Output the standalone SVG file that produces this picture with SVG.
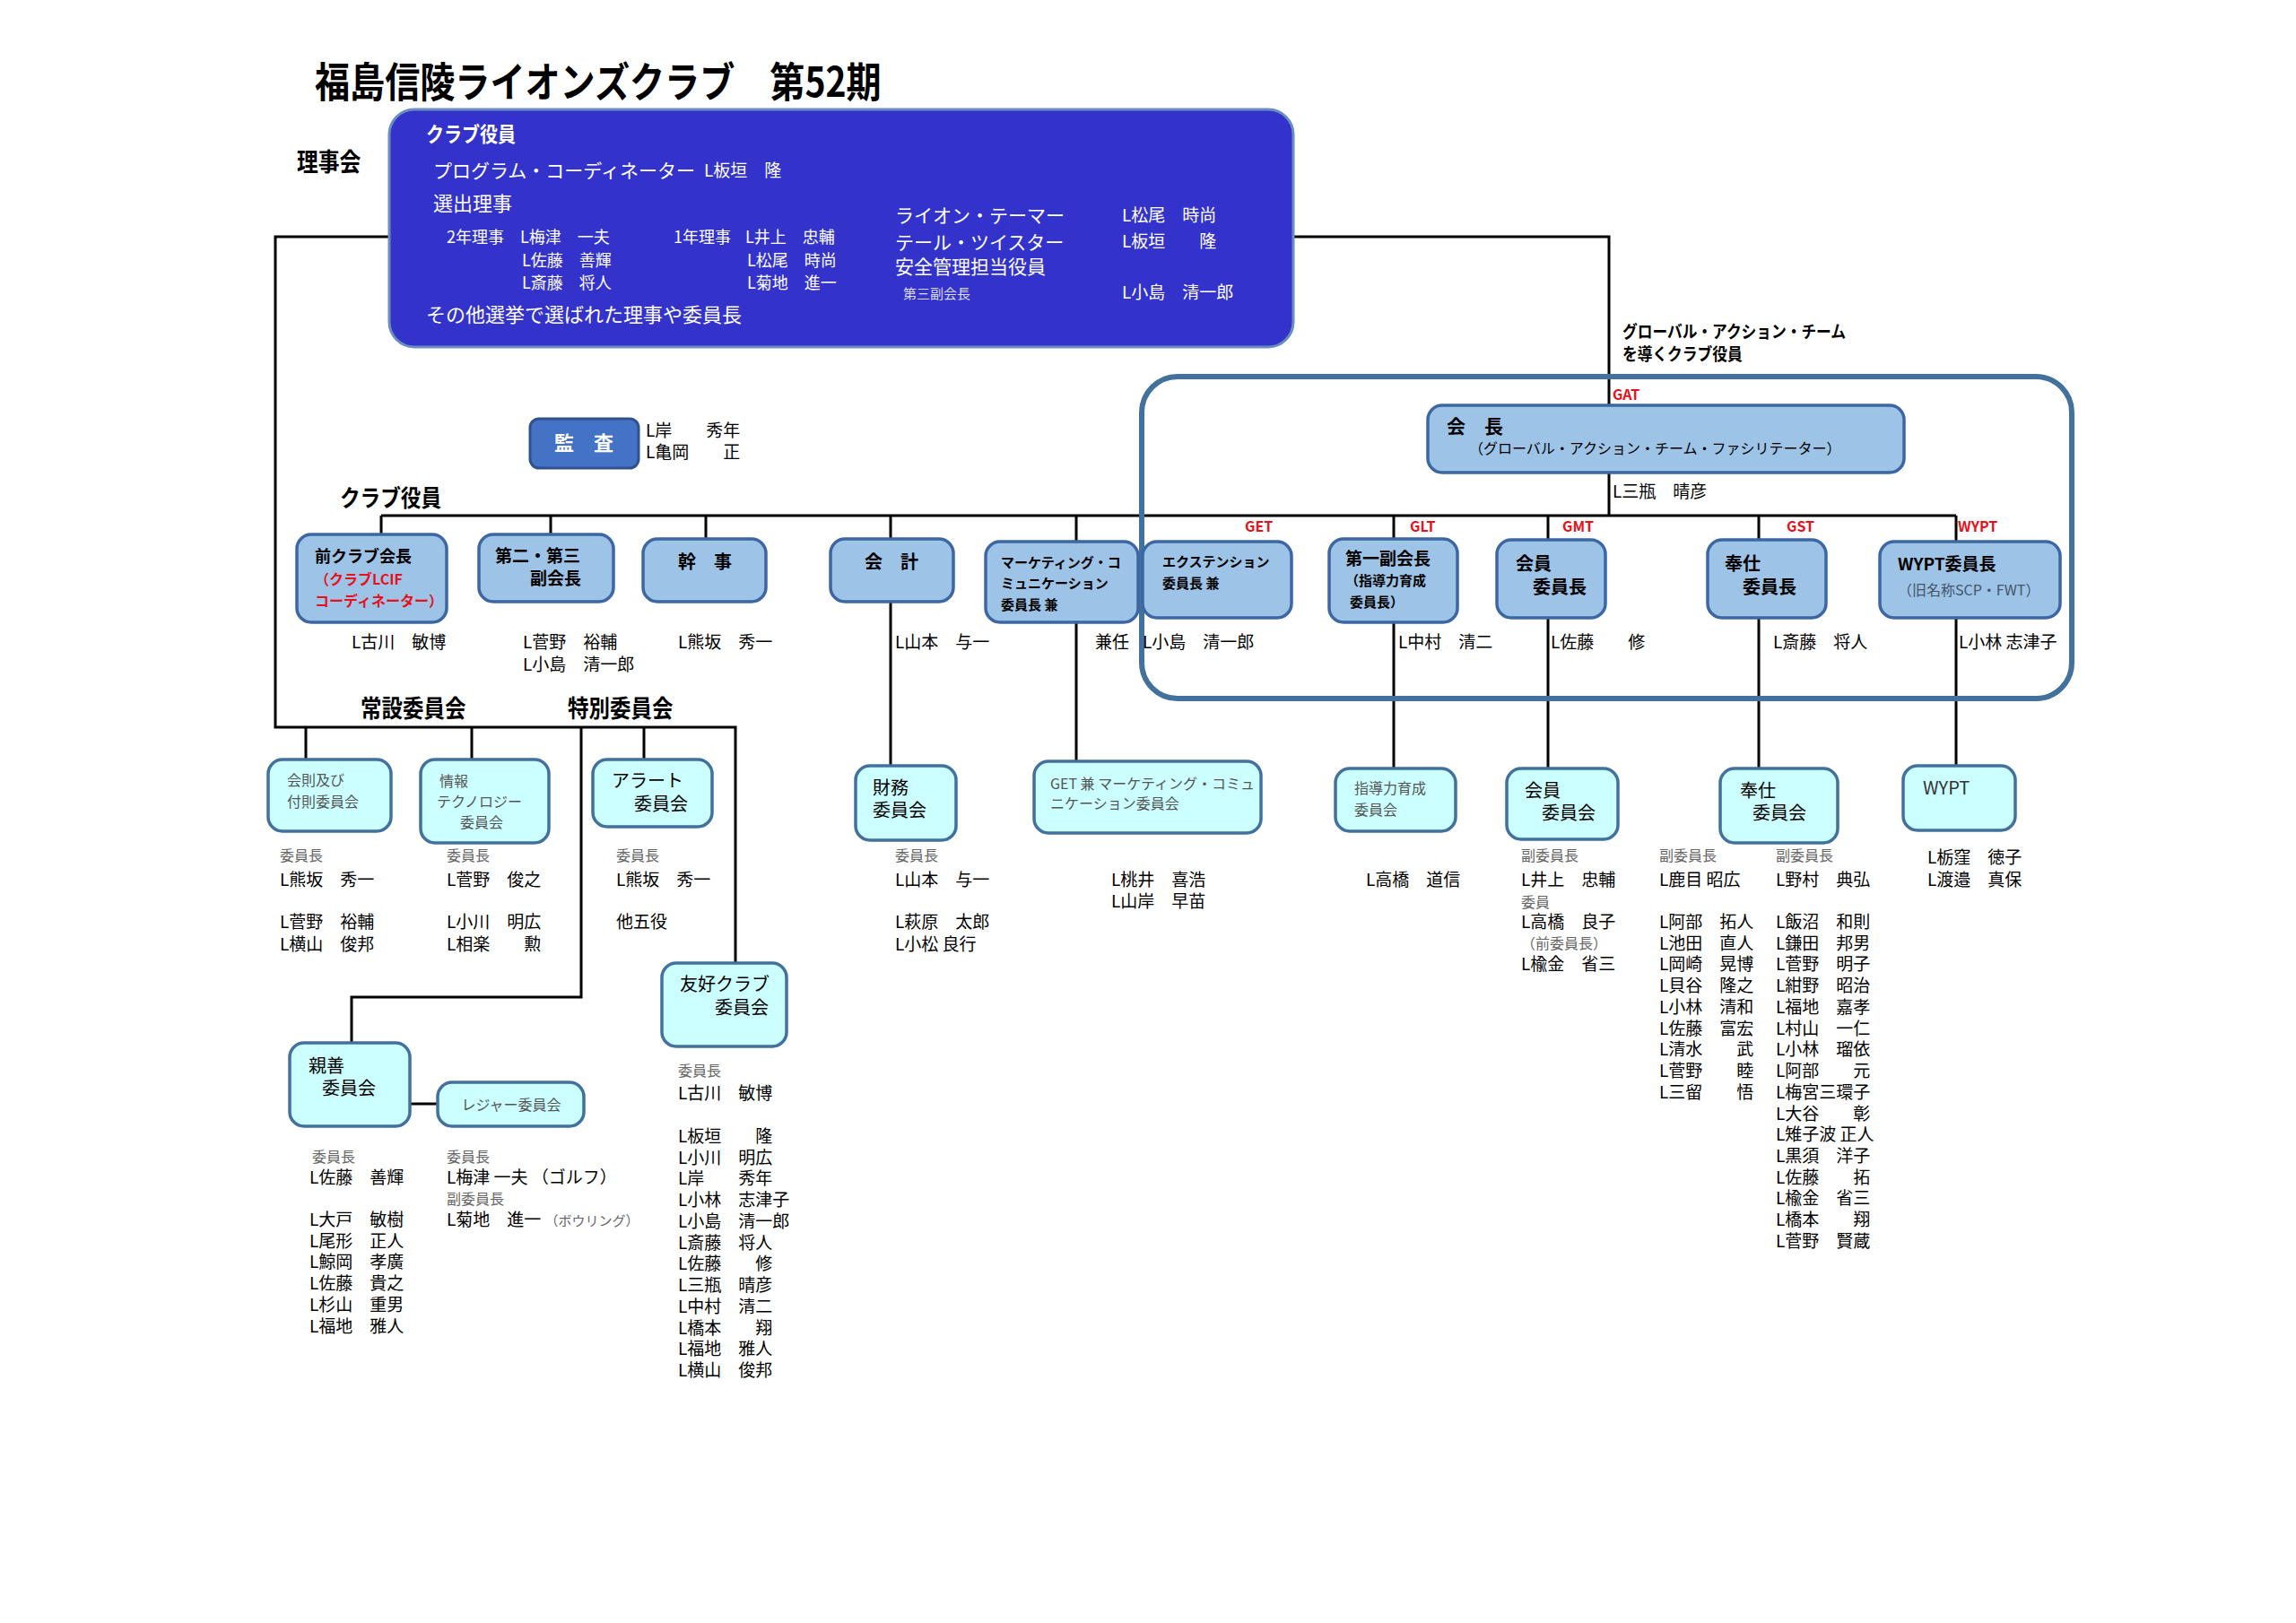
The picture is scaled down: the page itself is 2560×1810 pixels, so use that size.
<svg xmlns="http://www.w3.org/2000/svg" width="2560" height="1810" viewBox="0 0 2560 1810">
<style>
text{font-family:"Noto Sans CJK JP","Noto Sans CJK SC",sans-serif;fill:#000;font-size:19px}
.b{font-weight:bold}
.w{fill:#fff}
.g{fill:#666;font-size:16px}
.gb{fill:#555;font-size:16px}
.r{fill:#e8101a;font-weight:bold;font-size:16px}
.red{fill:#e8101a}
.ln{stroke:#000;stroke-width:3;fill:none}
.lb{fill:#9dc3e6;stroke:#3d67a3;stroke-width:3.5}
.cy{fill:#ccffff;stroke:#41719c;stroke-width:3.5}
.s15{font-size:15px}
.s16{font-size:16px}
.s18{font-size:18px}
.s20{font-size:20px}
.s21{font-size:21px}
.s22{font-size:22px}
.t46{font-size:46px}
.t28{font-size:28px}
.t26{font-size:26px}
.t27{font-size:27px}
.t23{font-size:23px}
</style>
<rect width="2560" height="1810" fill="#fff"/>

<!-- title & section labels -->
<text class="b t46" transform="translate(351,108) scale(0.85,1)">福島信陵ライオンズクラブ　第52期</text>
<text class="b t28" transform="translate(331,191) scale(0.85,1)">理事会</text>
<text class="b t26" transform="translate(379,565) scale(0.87,1)">クラブ役員</text>
<text class="b t27" transform="translate(402,800) scale(0.87,1)">常設委員会</text>
<text class="b t27" transform="translate(633,800) scale(0.87,1)">特別委員会</text>
<text class="b" transform="translate(1809,377) scale(0.88,1)">グローバル・アクション・チーム</text>
<text class="b" transform="translate(1809,402) scale(0.88,1)">を導くクラブ役員</text>

<!-- connectors -->
<g id="connectors">
<path class="ln" d="M434,264 H307 V811 H820 V1074"/>
<path class="ln" d="M341,811 V847"/>
<path class="ln" d="M526,811 V847"/>
<path class="ln" d="M648,811 V1112 H392 V1163"/>
<path class="ln" d="M718,811 V847"/>
<path class="ln" d="M457,1231 H488"/>
<path class="ln" d="M1442,264 H1794 V452"/>
<path class="ln" d="M1794,527 V575"/>
<path class="ln" d="M425,575 H2181"/>
<path class="ln" d="M425,575 V596"/>
<path class="ln" d="M614,575 V596"/>
<path class="ln" d="M787,575 V601"/>
<path class="ln" d="M993,575 V854"/>
<path class="ln" d="M1200,575 V849"/>
<path class="ln" d="M1554,575 V857"/>
<path class="ln" d="M1726,575 V857"/>
<path class="ln" d="M1961,575 V857"/>
<path class="ln" d="M2181,575 V854"/>
</g>

<!-- GAT outline -->
<rect id="gat-frame" x="1273" y="420" width="1037" height="359" rx="40" fill="none" stroke="#41719c" stroke-width="6"/>
<text class="r" x="1798" y="446">GAT</text>
<text class="r" x="1388" y="593">GET</text>
<text class="r" x="1572" y="593">GLT</text>
<text class="r" x="1742" y="593">GMT</text>
<text class="r" x="1992" y="593">GST</text>
<text class="r" x="2183" y="593">WYPT</text>

<!-- board box -->
<g id="board">
<rect x="434" y="122" width="1008" height="265" rx="28" fill="#3333cc" stroke="#6a8fbf" stroke-width="3"/>
<text class="w b t23" transform="translate(475,158) scale(0.87,1)">クラブ役員</text>
<text class="w s21" x="483" y="198">プログラム・コーディネーター</text>
<text class="w" x="785" y="197">L板垣　隆</text>
<text class="w s22" x="483" y="235">選出理事</text>
<text class="w s18" x="498" y="271">2年理事</text>
<text class="w s18" x="580" y="271">L梅津　一夫</text>
<text class="w s18" x="582" y="297">L佐藤　善輝</text>
<text class="w s18" x="582" y="322">L斎藤　将人</text>
<text class="w s18" x="751" y="271">1年理事</text>
<text class="w s18" x="831" y="271">L井上　忠輔</text>
<text class="w s18" x="833" y="297">L松尾　時尚</text>
<text class="w s18" x="833" y="322">L菊地　進一</text>
<text class="w s22" x="475" y="359">その他選挙で選ばれた理事や委員長</text>
<text class="w s21" x="998" y="248">ライオン・テーマー</text>
<text class="w s21" x="998" y="278">テール・ツイスター</text>
<text class="w s21" x="998" y="305">安全管理担当役員</text>
<text class="s15" x="1007" y="333" style="fill:#dcdcf0">第三副会長</text>
<text class="w" x="1251" y="247">L松尾　時尚</text>
<text class="w" x="1251" y="276">L板垣　　隆</text>
<text class="w" x="1251" y="333">L小島　清一郎</text>
</g>

<!-- audit -->
<g id="audit">
<rect x="591" y="467" width="121" height="55" rx="10" fill="#4472c4" stroke="#2f528f" stroke-width="3"/>
<text class="w b s22" x="651" y="502" text-anchor="middle">監　査</text>
<text x="720" y="487">L岸　　秀年</text>
<text x="720" y="511">L亀岡　　正</text>
</g>

<!-- president -->
<g id="president">
<rect class="lb" x="1592" y="452" width="531" height="75" rx="16"/>
<text class="b s21" x="1613" y="483">会　長</text>
<text class="s16" x="1638" y="506">（グローバル・アクション・チーム・ファシリテーター）</text>
<text x="1798" y="555">L三瓶　晴彦</text>
</g>

<!-- officer row -->
<g id="past-president">
<rect class="lb" x="331" y="596" width="167" height="98" rx="16"/>
<text class="b s18" x="351" y="627">前クラブ会長</text>
<text class="b s16 red" x="351" y="652">（クラブLCIF</text>
<text class="b s16 red" x="351" y="676">コーディネーター）</text>
<text x="392" y="723">L古川　敏博</text>
</g>
<g id="vice-23">
<rect class="lb" x="534" y="596" width="150" height="75" rx="16"/>
<text class="b" x="552" y="627">第二・第三</text>
<text class="b" x="591" y="652">副会長</text>
<text x="583" y="723">L菅野　裕輔</text>
<text x="583" y="748">L小島　清一郎</text>
</g>
<g id="secretary">
<rect class="lb" x="717" y="601" width="137" height="70" rx="16"/>
<text class="b s20" x="786" y="634" text-anchor="middle">幹　事</text>
<text x="756" y="723">L熊坂　秀一</text>
</g>
<g id="treasurer">
<rect class="lb" x="926" y="601" width="137" height="70" rx="16"/>
<text class="b s20" x="994" y="634" text-anchor="middle">会　計</text>
<text x="998" y="723">L山本　与一</text>
</g>
<g id="marketing-chair">
<rect class="lb" x="1099" y="604" width="170" height="90" rx="16"/>
<text class="b s15" x="1116" y="633">マーケティング・コ</text>
<text class="b s15" x="1116" y="656">ミュニケーション</text>
<text class="b s15" x="1116" y="680">委員長 兼</text>
<text x="1221" y="723">兼任</text>
</g>
<g id="extension-chair">
<rect class="lb" x="1274" y="604" width="166" height="85" rx="16"/>
<text class="b s15" x="1296" y="632">エクステンション</text>
<text class="b s15" x="1296" y="656">委員長 兼</text>
<text x="1274" y="723">L小島　清一郎</text>
</g>
<g id="first-vice">
<rect class="lb" x="1482" y="601" width="143" height="93" rx="16"/>
<text class="b" x="1500" y="630">第一副会長</text>
<text class="b s15" x="1500" y="653">（指導力育成</text>
<text class="b s15" x="1505" y="677">委員長）</text>
<text x="1559" y="723">L中村　清二</text>
</g>
<g id="membership-chair">
<rect class="lb" x="1669" y="602" width="121" height="87" rx="16"/>
<text class="b s20" x="1690" y="636">会員</text>
<text class="b s20" x="1709" y="662">委員長</text>
<text x="1729" y="723">L佐藤　　修</text>
</g>
<g id="service-chair">
<rect class="lb" x="1904" y="602" width="132" height="87" rx="16"/>
<text class="b s20" x="1923" y="636">奉仕</text>
<text class="b s20" x="1943" y="662">委員長</text>
<text x="1977" y="723">L斎藤　将人</text>
</g>
<g id="wypt-chair">
<rect class="lb" x="2096" y="604" width="201" height="85" rx="16"/>
<text class="b" x="2116" y="636">WYPT委員長</text>
<text class="s16" x="2116" y="664" style="fill:#44546a">（旧名称SCP・FWT）</text>
<text x="2184" y="723">L小林 志津子</text>
</g>

<!-- standing committees -->
<g id="bylaws">
<rect class="cy" x="299" y="847" width="137" height="80" rx="16"/>
<text class="gb" x="320" y="876">会則及び</text>
<text class="gb" x="320" y="900">付則委員会</text>
<text class="g" x="312" y="960">委員長</text>
<text x="312" y="988">L熊坂　秀一</text>
<text x="312" y="1035">L菅野　裕輔</text>
<text x="312" y="1060">L横山　俊邦</text>
</g>
<g id="it">
<rect class="cy" x="469" y="847" width="143" height="93" rx="16"/>
<text class="gb" x="490" y="877">情報</text>
<text class="gb" x="487" y="900">テクノロジー</text>
<text class="gb" x="513" y="923">委員会</text>
<text class="g" x="498" y="960">委員長</text>
<text x="498" y="988">L菅野　俊之</text>
<text x="498" y="1035">L小川　明広</text>
<text x="498" y="1060">L相楽　　勲</text>
</g>
<g id="alert">
<rect class="cy" x="661" y="847" width="133" height="75" rx="16"/>
<text class="s20" x="682" y="878">アラート</text>
<text class="s20" x="707" y="904">委員会</text>
<text class="g" x="687" y="960">委員長</text>
<text x="687" y="988">L熊坂　秀一</text>
<text x="687" y="1035">他五役</text>
</g>
<g id="friendship">
<rect class="cy" x="738" y="1074" width="139" height="93" rx="16"/>
<text class="s20" x="758" y="1105">友好クラブ</text>
<text class="s20" x="797" y="1131">委員会</text>
<text class="g" x="756" y="1200">委員長</text>
<text x="756" y="1226">L古川　敏博</text>
<text x="756" y="1274">L板垣　　隆</text>
<text x="756" y="1298">L小川　明広</text>
<text x="756" y="1321">L岸　　秀年</text>
<text x="756" y="1345">L小林　志津子</text>
<text x="756" y="1369">L小島　清一郎</text>
<text x="756" y="1393">L斎藤　将人</text>
<text x="756" y="1416">L佐藤　　修</text>
<text x="756" y="1440">L三瓶　晴彦</text>
<text x="756" y="1464">L中村　清二</text>
<text x="756" y="1488">L橋本　　翔</text>
<text x="756" y="1511">L福地　雅人</text>
<text x="756" y="1535">L横山　俊邦</text>
</g>
<g id="fellowship">
<rect class="cy" x="323" y="1163" width="134" height="93" rx="16"/>
<text class="s20" x="344" y="1196">親善</text>
<text class="s20" x="359" y="1221">委員会</text>
<text class="g" x="348" y="1296">委員長</text>
<text x="345" y="1320">L佐藤　善輝</text>
<text x="345" y="1367">L大戸　敏樹</text>
<text x="345" y="1391">L尾形　正人</text>
<text x="345" y="1414">L鯨岡　孝廣</text>
<text x="345" y="1438">L佐藤　貴之</text>
<text x="345" y="1462">L杉山　重男</text>
<text x="345" y="1486">L福地　雅人</text>
</g>
<g id="leisure">
<rect class="cy" x="488" y="1207" width="163" height="49" rx="16"/>
<text class="gb" x="570" y="1238" text-anchor="middle">レジャー委員会</text>
<text class="g" x="498" y="1296">委員長</text>
<text x="498" y="1320">L梅津 一夫 （ゴルフ）</text>
<text class="g" x="498" y="1343">副委員長</text>
<text x="498" y="1367">L菊地　進一 <tspan class="g" style="font-size:15px">（ボウリング）</tspan></text>
</g>
<g id="finance">
<rect class="cy" x="954" y="854" width="112" height="83" rx="16"/>
<text class="s20" x="973" y="886">財務</text>
<text class="s20" x="973" y="911">委員会</text>
<text class="g" x="998" y="960">委員長</text>
<text x="998" y="988">L山本　与一</text>
<text x="998" y="1035">L萩原　太郎</text>
<text x="998" y="1060">L小松 良行</text>
</g>
<g id="marketing">
<rect class="cy" x="1153" y="849" width="253" height="80" rx="16"/>
<text class="gb" x="1171" y="880">GET 兼 マーケティング・コミュ</text>
<text class="gb" x="1171" y="902">ニケーション委員会</text>
<text x="1239" y="988">L桃井　喜浩</text>
<text x="1239" y="1012">L山岸　早苗</text>
</g>
<g id="leadership">
<rect class="cy" x="1489" y="857" width="134" height="70" rx="16"/>
<text class="gb" x="1510" y="885">指導力育成</text>
<text class="gb" x="1510" y="909">委員会</text>
<text x="1523" y="988">L高橋　道信</text>
</g>
<g id="membership">
<rect class="cy" x="1680" y="857" width="124" height="79" rx="16"/>
<text class="s20" x="1700" y="889">会員</text>
<text class="s20" x="1719" y="914">委員会</text>
<text class="g" x="1696" y="960">副委員長</text>
<text x="1696" y="988">L井上　忠輔</text>
<text class="g" x="1696" y="1012">委員</text>
<text x="1696" y="1035">L高橋　良子</text>
<text class="g" x="1696" y="1058">（前委員長）</text>
<text x="1696" y="1082">L楡金　省三</text>
</g>
<g id="service">
<rect class="cy" x="1918" y="857" width="131" height="83" rx="16"/>
<text class="s20" x="1940" y="889">奉仕</text>
<text class="s20" x="1954" y="914">委員会</text>
<text class="g" x="1850" y="960">副委員長</text>
<text x="1850" y="988">L鹿目 昭広</text>
<text x="1850" y="1035">L阿部　拓人</text>
<text x="1850" y="1059">L池田　直人</text>
<text x="1850" y="1082">L岡崎　晃博</text>
<text x="1850" y="1106">L貝谷　隆之</text>
<text x="1850" y="1130">L小林　清和</text>
<text x="1850" y="1154">L佐藤　富宏</text>
<text x="1850" y="1177">L清水　　武</text>
<text x="1850" y="1201">L菅野　　睦</text>
<text x="1850" y="1225">L三留　　悟</text>
<text class="g" x="1980" y="960">副委員長</text>
<text x="1980" y="988">L野村　典弘</text>
<text x="1980" y="1035">L飯沼　和則</text>
<text x="1980" y="1059">L鎌田　邦男</text>
<text x="1980" y="1082">L菅野　明子</text>
<text x="1980" y="1106">L紺野　昭治</text>
<text x="1980" y="1130">L福地　嘉孝</text>
<text x="1980" y="1154">L村山　一仁</text>
<text x="1980" y="1177">L小林　瑠依</text>
<text x="1980" y="1201">L阿部　　元</text>
<text x="1980" y="1225">L梅宮三環子</text>
<text x="1980" y="1249">L大谷　　彰</text>
<text x="1980" y="1272">L雉子波 正人</text>
<text x="1980" y="1296">L黒須　洋子</text>
<text x="1980" y="1320">L佐藤　　拓</text>
<text x="1980" y="1343">L楡金　省三</text>
<text x="1980" y="1367">L橋本　　翔</text>
<text x="1980" y="1391">L菅野　賢蔵</text>
</g>
<g id="wypt">
<rect class="cy" x="2122" y="854" width="125" height="72" rx="16"/>
<text class="s20" x="2144" y="886" style="fill:#333">WYPT</text>
<text x="2149" y="963">L栃窪　徳子</text>
<text x="2149" y="988">L渡邉　真保</text>
</g>
</svg>
